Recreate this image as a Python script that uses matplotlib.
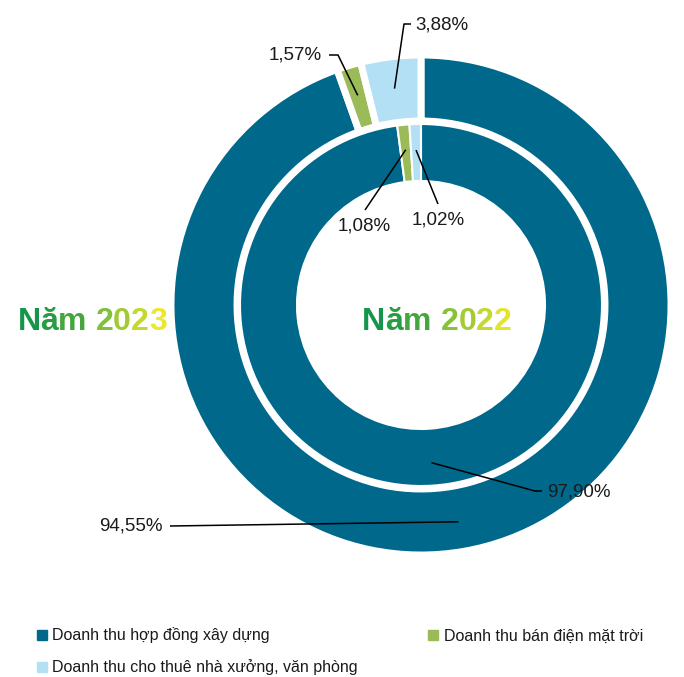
import numpy as np
import matplotlib
matplotlib.use("Agg")
import matplotlib.pyplot as plt
from matplotlib.lines import Line2D

plt.rcParams["font.family"] = ["Liberation Sans", "DejaVu Sans"]

# data
categories = [
    "Doanh thu hợp đồng xây dựng",
    "Doanh thu bán điện mặt trời",
    "Doanh thu cho thuê nhà xưởng, văn phòng",
]
values_2023 = [94.55, 1.57, 3.88]
values_2022 = [97.90, 1.08, 1.02]
labels_2023 = ["94,55%", "1,57%", "3,88%"]
labels_2022 = ["97,90%", "1,08%", "1,02%"]
colors = ["#00688b", "#9bbb59", "#b3e0f5"]

W, H = 684, 677
fig = plt.figure(figsize=(W / 100, H / 100), dpi=100)
ax = fig.add_axes([0, 0, 1, 1])


def Y(y):
    return H - y


cx, cy = 421, Y(305)

ax.pie(values_2023, radius=250, center=(cx, cy), colors=colors,
       startangle=90, counterclock=False,
       wedgeprops=dict(width=66, edgecolor="white", linewidth=5))
ax.pie(values_2022, radius=181, center=(cx, cy), colors=colors,
       startangle=90, counterclock=False,
       wedgeprops=dict(width=57, edgecolor="white", linewidth=1.5))

ax.set_xlim(0, W)
ax.set_ylim(0, H)
ax.set_aspect("equal")
ax.axis("off")


def anchor(values, idx, r):
    total = sum(values)
    mid = (sum(values[:idx]) + values[idx] / 2) / total * 2 * np.pi
    return cx + r * np.sin(mid), cy + r * np.cos(mid)


# (series, labels, index, radius, leader points, text pos, ha)
label_specs = [
    (values_2023, labels_2023, 0, 220, [(170, 526)], (163, 526), "right"),
    (values_2023, labels_2023, 1, 219, [(338, 55), (329, 55)], (322, 55), "right"),
    (values_2023, labels_2023, 2, 218, [(404, 24), (411, 24)], (415, 25), "left"),
    (values_2022, labels_2022, 0, 158, [(535, 491), (542, 491)], (547, 492), "left"),
    (values_2022, labels_2022, 1, 156, [(365, 210)], (364, 226), "center"),
    (values_2022, labels_2022, 2, 155, [(438, 204)], (438, 220), "center"),
]
for vals, labs, i, r, pts, tpos, ha in label_specs:
    ax0, ay0 = anchor(vals, i, r)
    xs = [ax0] + [p[0] for p in pts]
    ys = [ay0] + [Y(p[1]) for p in pts]
    ax.plot(xs, ys, color="black", lw=1.1, solid_capstyle="butt")
    ax.text(tpos[0], Y(tpos[1]), labs[i], ha=ha, va="center",
            fontsize=13.5, color="#1a1a1a")

# gradient coloured year titles, one character at a time
renderer = fig.canvas.get_renderer()
title_font = dict(fontsize=23, fontweight="bold")


def text_width(s):
    t = ax.text(0, 0, s + "x", **title_font)
    w1 = t.get_window_extent(renderer).width
    t.remove()
    t = ax.text(0, 0, "x", **title_font)
    w2 = t.get_window_extent(renderer).width
    t.remove()
    return w1 - w2


def gradient_title(s, char_colors, xc, yc):
    total = text_width(s)
    x0 = xc - total / 2
    for i, ch in enumerate(s):
        if ch == " ":
            continue
        ax.text(x0 + text_width(s[:i]), Y(yc), ch, ha="left", va="center",
                color=char_colors[i], **title_font)


grad_2022 = ["#14954a", "#279c43", "#45a63e", None, "#86c23a", "#a4cb35", "#c4d830", "#e3e52b"]
grad_2023 = ["#14954a", "#279c43", "#45a63e", None, "#80c03a", "#a0cb35", "#c4d830", "#ebe72a"]
gradient_title("Năm 2022", grad_2022, 437, 322)
gradient_title("Năm 2023", grad_2023, 92, 322)

# legend (row-wise order: items 0,1 on first row, item 2 below)
handles = [Line2D([], [], marker="s", ls="", color=c, markersize=7) for c in colors]
order = [0, 2, 1]
ax.legend([handles[k] for k in order], [categories[k] for k in order],
          ncol=2, loc="upper left",
          bbox_to_anchor=(30 / W, Y(621) / H), frameon=False,
          fontsize=11.5, handlelength=0.65, handletextpad=0.35,
          columnspacing=4.4, labelspacing=1.0, borderaxespad=0,
          labelcolor="#1a1a1a")

fig.savefig("out.png", dpi=100)
